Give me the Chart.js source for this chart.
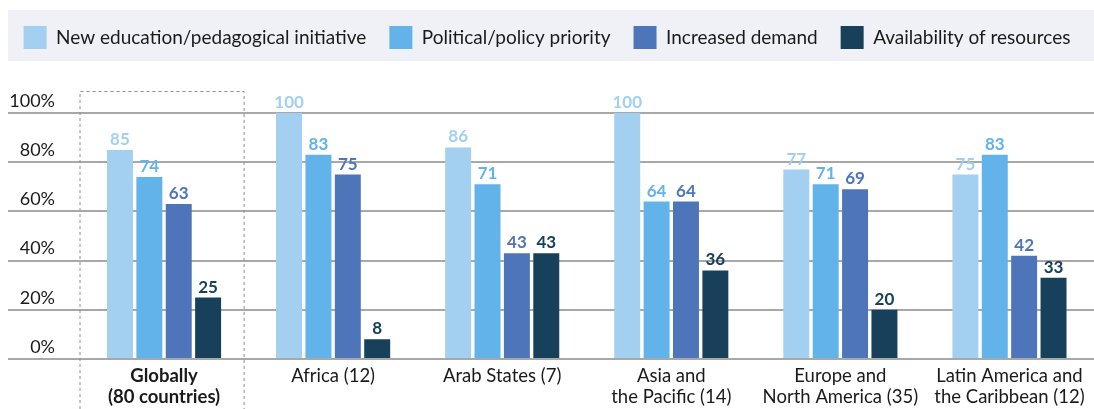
<!doctype html>
<html>
<head>
    <title>Reasons for change by region</title>
    <script src="https://cdn.jsdelivr.net/npm/chart.js@4.4.1/dist/chart.umd.min.js"></script>
    <style>
    body { margin: 0; background: #fff; }
    #container { width: 1094px; height: 409px; position: relative; }
    </style>
</head>
<body>
    <div id="container">
        <canvas id="canvas"></canvas>
    </div>
    <script>
        var REGIONS = [
            ['Globally', '(80 countries)'],
            'Africa (12)',
            'Arab States (7)',
            ['Asia and', 'the Pacific (14)'],
            ['Europe and', 'North America (35)'],
            ['Latin America and', 'the Caribbean (12)']
        ];
        var SERIES_NAMES = ['New education/pedagogical initiative', 'Political/policy priority', 'Increased demand', 'Availability of resources'];
        var NEW_INITIATIVE = [85, 100, 86, 100, 77, 75];
        var POLICY_PRIORITY = [74, 83, 71, 64, 71, 83];
        var INCREASED_DEMAND = [63, 75, 43, 64, 69, 42];
        var RESOURCES = [25, 8, 43, 36, 20, 33];
        var Y_TICKS = [0, 20, 40, 60, 80, 100];

        var COLORS = ['#a3cff1', '#61b3ea', '#4e75b9', '#17405a'];
        var FONT = 'Lato, "Noto Sans", sans-serif';
        var TEXT = '#1a1a1a';

        var seriesValues = [NEW_INITIATIVE, POLICY_PRIORITY, INCREASED_DEMAND, RESOURCES];
        var barData = {
            labels: REGIONS,
            datasets: seriesValues.map(function(vals, i) {
                return {
                    label: SERIES_NAMES[i],
                    data: vals,
                    backgroundColor: COLORS[i],
                    borderWidth: 0,
                    categoryPercentage: 0.695,
                    barPercentage: 0.884
                };
            })
        };

        // grey band behind the legend
        var legendBand = {
            id: 'legendBand',
            beforeDraw: function(chart) {
                var c = chart.ctx;
                c.save();
                c.fillStyle = '#f0f1f6';
                c.fillRect(8, 10, chart.width - 8, 51);
                c.restore();
            }
        };

        // push the plot down under the legend
        var legendSpace = {
            id: 'legendSpace',
            beforeInit: function(chart) {
                var fit = chart.legend.fit;
                chart.legend.fit = function() {
                    fit.bind(chart.legend)();
                    this.height += 54;
                };
            }
        };

        // dotted frame around the global group
        var globalBox = {
            id: 'globalBox',
            afterDraw: function(chart) {
                var x = chart.scales.x, area = chart.chartArea, c = chart.ctx;
                var half = (x.getPixelForValue(1) - x.getPixelForValue(0)) / 2;
                var left = x.getPixelForValue(0) - half;
                var right = x.getPixelForValue(0) + half - 5;
                c.save();
                c.strokeStyle = '#8c8c8c';
                c.lineWidth = 1;
                c.setLineDash([3, 3]);
                c.beginPath();
                c.moveTo(left + 0.5, chart.height);
                c.lineTo(left + 0.5, area.top - 22 + 0.5);
                c.lineTo(right + 0.5, area.top - 22 + 0.5);
                c.lineTo(right + 0.5, chart.height);
                c.stroke();
                c.restore();
            }
        };

        // value labels over the bars
        var valueLabels = {
            id: 'valueLabels',
            afterDatasetsDraw: function(chart) {
                var c = chart.ctx;
                c.save();
                c.font = 'bold 17px ' + FONT;
                c.textAlign = 'center';
                c.textBaseline = 'alphabetic';
                chart.data.datasets.forEach(function(ds, i) {
                    var meta = chart.getDatasetMeta(i);
                    c.fillStyle = COLORS[i];
                    meta.data.forEach(function(bar, j) {
                        c.fillText(ds.data[j], bar.x, bar.y - 5);
                    });
                });
                c.restore();
            }
        };

        window.onload = function() {
            var ctx = document.getElementById('canvas').getContext('2d');
            window.myBar = new Chart(ctx, {
                type: 'bar',
                data: barData,
                plugins: [legendBand, legendSpace, globalBox, valueLabels],
                options: {
                    responsive: true,
                    maintainAspectRatio: false,
                    animation: false,
                    layout: { padding: { top: 3, right: 0, bottom: 0, left: 0 } },
                    plugins: {
                        legend: {
                            position: 'top',
                            labels: {
                                boxWidth: 23,
                                boxHeight: 23,
                                padding: 23,
                                color: TEXT,
                                font: { family: FONT, size: 19 }
                            }
                        },
                        tooltip: { enabled: false }
                    },
                    scales: {
                        x: {
                            afterFit: function(scale) { scale.height = 50; },
                            grid: { display: false, drawTicks: false },
                            border: { display: false },
                            ticks: {
                                color: TEXT,
                                padding: 7,
                                maxRotation: 0,
                                autoSkip: false,
                                font: function(c) {
                                    return { family: FONT, size: 18.5, weight: c.index === 0 ? 'bold' : 'normal', lineHeight: 1.135 };
                                }
                            }
                        },
                        y: {
                            min: 0,
                            max: 100,
                            afterFit: function(scale) { scale.width = 79.5; },
                            afterBuildTicks: function(scale) {
                                scale.ticks = Y_TICKS.map(function(v) { return { value: v }; });
                            },
                            grid: {
                                color: '#a8a8a8',
                                lineWidth: 2,
                                drawTicks: true,
                                tickLength: 71.5
                            },
                            border: { display: false },
                            ticks: {
                                color: TEXT,
                                padding: -47,
                                labelOffset: -12,
                                font: { family: FONT, size: 18 },
                                callback: function(v) { return v + '%'; }
                            }
                        }
                    }
                }
            });
        };
    </script>
</body>
</html>
